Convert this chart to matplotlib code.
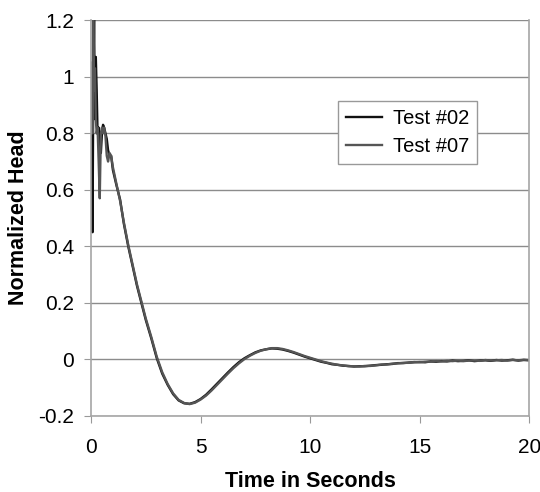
import numpy as np
from matplotlib import pyplot as plt

plt.rcParams['font.family'] = ['Liberation Sans', 'DejaVu Sans']

# time axis (seconds)
t = [0.00, 0.04, 0.07, 0.10, 0.14, 0.18, 0.22, 0.26, 0.30, 0.35,
     0.40, 0.45, 0.50, 0.55, 0.60, 0.66, 0.72, 0.78, 0.85, 0.92,
     1.00, 1.15, 1.33, 1.50, 1.70, 1.90, 2.10, 2.30, 2.50, 2.75,
     3.00, 3.25, 3.50, 3.75, 4.00, 4.25, 4.50, 4.75, 5.00, 5.25,
     5.50, 5.75, 6.00, 6.25, 6.50, 6.75, 7.00, 7.25, 7.50, 7.75,
     8.00, 8.25, 8.50, 8.75, 9.00, 9.25, 9.50, 9.75, 10.00, 10.25,
     10.50, 10.75, 11.00, 11.25, 11.50, 11.75, 12.00, 12.25, 12.50, 12.75,
     13.00, 13.25, 13.50, 13.75, 14.00, 14.25, 14.50, 14.75, 15.00, 15.25,
     15.50, 15.75, 16.00, 16.25, 16.50, 16.75, 17.00, 17.25, 17.50, 17.75,
     18.00, 18.25, 18.50, 18.75, 19.00, 19.25, 19.50, 19.75, 20.00]

# Test #02
head_02 = [1.00, 1.02, 0.45, 0.90, 1.20, 0.85, 1.07, 0.95, 0.80, 0.82,
           0.78, 0.73, 0.80, 0.83, 0.82, 0.80, 0.78, 0.74, 0.72, 0.72,
           0.67, 0.62, 0.565, 0.48, 0.40, 0.33, 0.26, 0.20, 0.14, 0.075,
           0.005, -0.05, -0.09, -0.123, -0.145, -0.155, -0.157, -0.151, -0.14, -0.125,
           -0.106, -0.086, -0.066, -0.046, -0.027, -0.010, 0.004, 0.015, 0.025, 0.032,
           0.036, 0.039, 0.038, 0.035, 0.030, 0.024, 0.017, 0.010, 0.004, -0.002,
           -0.008, -0.012, -0.017, -0.019, -0.022, -0.023, -0.025, -0.024, -0.024, -0.022,
           -0.020, -0.019, -0.017, -0.016, -0.013, -0.013, -0.011, -0.010, -0.009, -0.010,
           -0.007, -0.008, -0.006, -0.007, -0.004, -0.006, -0.005, -0.003, -0.006, -0.004,
           -0.003, -0.005, -0.002, -0.004, -0.003, -0.001, -0.004, -0.002, -0.003]

# Test #07
head_07 = [0.80, 1.05, 0.80, 1.20, 0.95, 1.03, 0.85, 0.80, 0.82, 0.70,
           0.57, 0.80, 0.82, 0.80, 0.82, 0.79, 0.72, 0.70, 0.73, 0.72,
           0.68, 0.625, 0.56, 0.485, 0.405, 0.335, 0.265, 0.205, 0.145, 0.08,
           0.010, -0.045, -0.087, -0.120, -0.143, -0.154, -0.158, -0.153, -0.142, -0.128,
           -0.110, -0.090, -0.070, -0.050, -0.031, -0.014, 0.001, 0.013, 0.023, 0.031,
           0.036, 0.040, 0.040, 0.037, 0.032, 0.026, 0.019, 0.012, 0.006, 0.000,
           -0.006, -0.011, -0.015, -0.019, -0.021, -0.024, -0.024, -0.025, -0.023, -0.023,
           -0.021, -0.018, -0.018, -0.015, -0.014, -0.012, -0.012, -0.009, -0.010, -0.008,
           -0.008, -0.006, -0.007, -0.005, -0.006, -0.004, -0.006, -0.004, -0.004, -0.005,
           -0.002, -0.004, -0.003, -0.002, -0.004, -0.002, -0.003, -0.001, -0.002]

x_ticks = [0, 5, 10, 15, 20]
y_ticks = [-0.2, 0, 0.2, 0.4, 0.6, 0.8, 1, 1.2]
y_labels = ['-0.2', '0', '0.2', '0.4', '0.6', '0.8', '1', '1.2']

fig = plt.figure(figsize=(5.4, 4.92), dpi=100)
ax = fig.add_axes([0.1685, 0.1545, 0.8115, 0.8045])

ax.plot(t, head_02, color='#111111', lw=1.7, label='Test #02')
ax.plot(t, head_07, color='#555555', lw=1.7, label='Test #07')

ax.set_xlim(0, 20)
ax.set_ylim(-0.2, 1.2)
ax.set_xticks(x_ticks)
ax.set_yticks(y_ticks)
ax.set_yticklabels(y_labels)
ax.tick_params(labelsize=15, color='#999999', length=5, direction='out')
ax.tick_params(axis='y', pad=7)
ax.tick_params(axis='x', pad=11)

ax.yaxis.grid(True, color='#8c8c8c', lw=1)
ax.set_axisbelow(True)
for s in ['left', 'bottom', 'right']:
    ax.spines[s].set_color('#a6a6a6')
    ax.spines[s].set_linewidth(1.2)
ax.spines['top'].set_visible(False)

ax.set_xlabel('Time in Seconds', fontsize=15.5, fontweight='bold', labelpad=10)
ax.set_ylabel('Normalized Head', fontsize=15.5, fontweight='bold', labelpad=7)

leg = ax.legend(loc='upper left', bbox_to_anchor=(0.564, 0.795), fontsize=14.5,
                fancybox=False, framealpha=1, edgecolor='#999999',
                handlelength=1.8, borderpad=0.4, labelspacing=0.45,
                handletextpad=0.5, borderaxespad=0)
leg.get_frame().set_linewidth(1)

fig.savefig('out.png', dpi=100)
